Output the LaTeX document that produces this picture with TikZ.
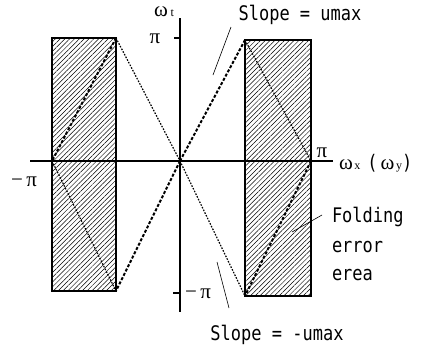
\documentclass[tikz,border=0pt]{standalone}
\usepackage{fontspec}
\usetikzlibrary{patterns.meta}
\newfontfamily\monofam{DejaVu Sans Mono}
\newfontfamily\grkfam{Liberation Serif}
\newcommand\mytxt[1]{\scalebox{1}[1.18]{\monofam\fontsize{17}{20}\selectfont #1}}
\newcommand\mygk[1]{{\grkfam\fontsize{21}{24}\selectfont #1}}
\newcommand\mysub[1]{{\grkfam\fontsize{12}{14}\selectfont #1}}
\tikzset{
  axisline/.style={line width=1.4pt},
  ticky/.style={line width=1.1pt},
  errbox/.style={line width=1.5pt, pattern={Lines[angle=45,distance=3.4pt,line width=0.5pt]}},
  thickdash/.style={line width=2pt, dash pattern=on 3pt off 1.8pt},
  thindot/.style={line width=1.2pt, dash pattern=on 1.6pt off 1.4pt},
  leader/.style={line width=0.6pt},
  lbl/.style={inner sep=0pt, outer sep=0pt},
}
\begin{document}
\begin{tikzpicture}[x=1pt,y=-1pt]
\useasboundingbox[fill=white] (0,0) rectangle (428,349);
% key points
\coordinate (O) at (180,161);
\coordinate (L1) at (52,38);  \coordinate (L2) at (116,38);
\coordinate (L3) at (116,291); \coordinate (La) at (52,161);
\coordinate (R1) at (245,40); \coordinate (R3) at (311,296);
\coordinate (R4) at (245,296); \coordinate (Ra) at (311,161);
\coordinate (xl) at (30,161); \coordinate (xr) at (333,161);
\coordinate (yt) at (180,18); \coordinate (yb) at (180,312);
\coordinate (tp) at (174,38); \coordinate (tpa) at (180,38);
\coordinate (tm) at (173,293); \coordinate (tma) at (180,293);
% folding error areas
\draw[errbox] (L1) rectangle (L3);
\draw[errbox] (R1) rectangle (R3);
% axes
\draw[axisline] (xl) -- (xr);
\draw[axisline] (yt) -- (yb);
\draw[ticky] (tp) -- (tpa);
\draw[ticky] (tm) -- (tma);
% slope lines
\draw[thickdash] (L2) -- (La);
\draw[thickdash] (O) -- (R1);
\draw[thickdash] (O) -- (L3);
\draw[thickdash] (Ra) -- (R4);
\draw[thindot] (L2) -- (O);
\draw[thindot] (La) -- (L3);
\draw[thindot] (R1) -- (Ra);
\draw[thindot] (O) -- (R4);
% labels
\node[lbl] (wt) at (164,12) {\mygk{ω}\;\mysub{t}};
\node[lbl] (pitop) at (155,39) {\mygk{π}};
\node[lbl] (piright) at (322,153) {\mygk{π}};
\node[lbl, anchor=west] (wx) at (339,163) {\mygk{ω}\,\mysub{x}\hspace{7pt}\mytxt{(}\hspace{3pt}\mygk{ω}\,\mysub{y}\mytxt{)}};
\node[lbl] (pileft) at (24,182) {\mygk{−\,π}};
\node[lbl] (pibot) at (198,294) {\mygk{−\,π}};
\node[lbl] (sup) at (300,15) {\mytxt{Slope = umax}};
\node[lbl] (sdown) at (277,335) {\mytxt{Slope = -umax}};
\node[lbl, anchor=west] (f1) at (332,217) {\mytxt{Folding}};
\node[lbl, anchor=west] (f2) at (332,247) {\mytxt{error}};
\node[lbl, anchor=west] (f3) at (332,275) {\mytxt{erea}};
% leader lines
\coordinate (a1) at (231,27); \coordinate (a2) at (213,75);
\coordinate (b1) at (217,262); \coordinate (b2) at (229,308);
\coordinate (c1) at (322,215); \coordinate (c2) at (292,232);
\draw[leader] (a1) -- (a2);
\draw[leader] (b1) -- (b2);
\draw[leader] (c1) -- (c2);
\end{tikzpicture}
\end{document}
